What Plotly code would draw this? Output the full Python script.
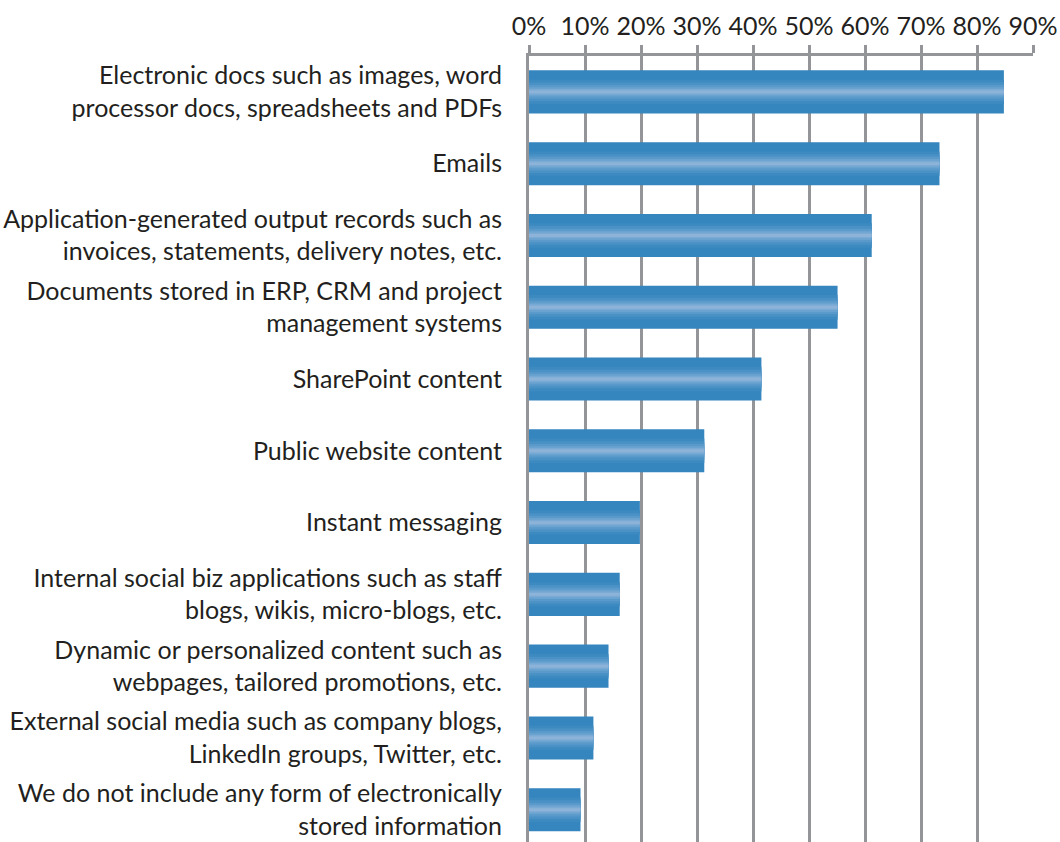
import plotly.graph_objects as go

# Survey categories (top to bottom) and share of respondents
categories = [
    "Electronic docs such as images, word<br>processor docs, spreadsheets and PDFs",
    "Emails",
    "Application-generated output records such as<br>invoices, statements, delivery notes, etc.",
    "Documents stored in ERP, CRM and project<br>management systems",
    "SharePoint content",
    "Public website content",
    "Instant messaging",
    "Internal social biz applications such as staff<br>blogs, wikis, micro-blogs, etc.",
    "Dynamic or personalized content such as<br>webpages, tailored promotions, etc.",
    "External social media such as company blogs,<br>LinkedIn groups, Twitter, etc.",
    "We do not include any form of electronically<br>stored information",
]
values = [0.848, 0.733, 0.612, 0.551, 0.415, 0.313, 0.198, 0.162, 0.142, 0.115, 0.092]

tick_vals = [0, 0.1, 0.2, 0.3, 0.4, 0.5, 0.6, 0.7, 0.8, 0.9]
tick_text = ["0%", "10%", "20%", "30%", "40%", "50%", "60%", "70%", "80%", "90%"]

positions = list(range(len(categories)))

# Cylinder-like shading: stacked overlay bars, narrower and lighter toward the middle
shade_layers = [
    (0.60, "#3585BE"),
    (0.34, "#3D8AC1"),
    (0.26, "#4A91C6"),
    (0.19, "#5A9ACB"),
    (0.13, "#6AA2D0"),
    (0.08, "#7BABD4"),
    (0.04, "#8DB3D9"),
]

GRID = "#939598"
TEXT = "#231F20"
FONT = "Lato"

fig = go.Figure()
for width, color in shade_layers:
    fig.add_trace(go.Bar(
        x=values,
        y=positions,
        orientation="h",
        width=width,
        marker=dict(color=color, line=dict(width=0)),
        hoverinfo="skip",
        showlegend=False,
    ))

fig.update_layout(
    width=1060,
    height=842,
    margin=dict(l=529, r=27, t=56, b=0),
    paper_bgcolor="white",
    plot_bgcolor="white",
    barmode="overlay",
    font=dict(family=FONT, size=25, color=TEXT),
    xaxis=dict(
        side="top",
        range=[0, 0.9],
        tickvals=tick_vals,
        ticktext=tick_text,
        showgrid=True,
        gridcolor=GRID,
        gridwidth=3,
        zeroline=False,
        showline=True,
        linecolor=GRID,
        linewidth=3,
        ticks="outside",
        ticklen=8,
        tickwidth=3,
        tickcolor=GRID,
        tickfont=dict(family=FONT, size=25, color=TEXT),
        fixedrange=True,
    ),
    yaxis=dict(
        range=[10.45, -0.5],
        tickvals=positions,
        ticktext=categories,
        showgrid=False,
        zeroline=False,
        showline=True,
        linecolor=GRID,
        linewidth=3,
        ticks="",
        ticklabelstandoff=19,
        tickfont=dict(family=FONT, size=25, color=TEXT),
        automargin=False,
        fixedrange=True,
    ),
)

fig.write_html("out.html")
